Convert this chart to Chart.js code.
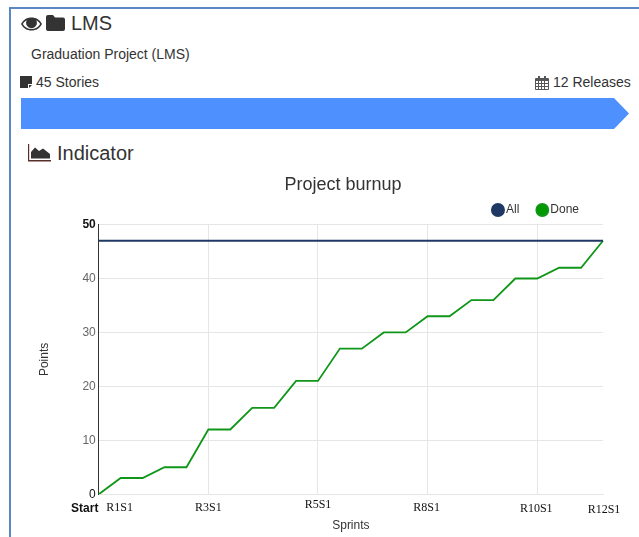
<!DOCTYPE html>
<html>
<head>
<meta charset="utf-8">
<title>LMS</title>
<script src="https://cdn.jsdelivr.net/npm/chart.js@4/dist/chart.umd.min.js"></script>
<style>
  html, body { margin: 0; background: #fff; width: 639px; height: 537px; overflow: hidden; }
  body { font-family: "Liberation Sans", Arial, sans-serif; color: #333; position: relative; }
  .frame { position: absolute; left: 9px; top: 7px; width: 640px; height: 540px; border: 2px solid #5b88c4; box-sizing: border-box; }
  .txt { position: absolute; white-space: nowrap; line-height: 1; }
  svg { position: absolute; fill: #333; }
  .bar { position: absolute; left: 21px; top: 98px; width: 608px; height: 31px; background: #4d90fe;
         clip-path: polygon(0 0, 593px 0, 100% 50%, 593px 100%, 0 100%); }
  #chartBox { position: absolute; left: 0; top: 168px; width: 639px; height: 369px; }
</style>
</head>
<body>
<div class="frame"></div>

<svg style="left:21px;top:16px" width="21" height="16" viewBox="0 0 21 16">
  <path fill-rule="evenodd" d="M0 8C2.500 3.500 6 1.500 10.500 1.500S18.500 3.500 21 8c-2.500 4.500-6 6.500-10.500 6.500S2.500 12.500 0 8zM1.800 8c2 3.300 5 5 8.700 5s6.700-1.700 8.700-5c-1.100-1.700-2.400-3-4-3.800a5.400 5.400 0 1 1-9.400 0C4.200 5 2.900 6.300 1.800 8z"/>
</svg>
<svg style="left:46px;top:15px" width="19" height="16" viewBox="0 0 19 16">
  <path d="M2 0h5l2 2.500h8a2 2 0 0 1 2 2V14a2 2 0 0 1-2 2H2a2 2 0 0 1-2-2V2a2 2 0 0 1 2-2z"/>
</svg>
<div class="txt" style="left:71px;top:13px;font-size:20px">LMS</div>
<div class="txt" style="left:31px;top:47px;font-size:14px">Graduation Project (LMS)</div>

<svg style="left:20px;top:76px" width="12" height="12" viewBox="0 0 12 12">
  <path d="M0 0h12v8H8v4H0z"/><path d="M9 9h3l-3 3z"/>
</svg>
<div class="txt" style="left:36px;top:75px;font-size:14px">45 Stories</div>

<svg style="left:535px;top:76px;fill:#555" width="14" height="14" viewBox="0 0 14 14">
  <path fill-rule="evenodd" d="M1 2h2V0h2v2h4V0h2v2h2a1 1 0 0 1 1 1v10a1 1 0 0 1-1 1H1a1 1 0 0 1-1-1V3a1 1 0 0 1 1-1zM1 5v2h2V5zm3 0v2h2V5zm3 0v2h2V5zm3 0v2h3V5zM1 8v2h2V8zm3 0v2h2V8zm3 0v2h2V8zm3 0v2h3V8zM1 11v2h2v-2zm3 0v2h2v-2zm3 0v2h2v-2zm3 0v2h3v-2z"/>
</svg>
<div class="txt" style="left:553px;top:75px;font-size:14px">12 Releases</div>

<div class="bar"></div>

<svg style="left:28px;top:144px" width="23" height="18" viewBox="0 0 23 18">
  <path d="M0 0h1.200v16H23v1.500H0z" fill="#5a2e2c"/><path d="M3 14.500V8L7 3.500 11 7l4-2.500L22 10v4.500z"/>
</svg>
<div class="txt" style="left:57px;top:143px;font-size:20px">Indicator</div>

<div id="chartBox"><canvas id="burnupChart"></canvas></div>

<script>
// Burnup values, one entry per sprint
const sprintLabels = ['Start', 'R1S1', '', '', '', 'R3S1', '', '', '', '', 'R5S1', '', '', '', '', 'R8S1', '', '', '', '', 'R10S1', '', '', 'R12S1'];
const allPoints = [47, 47, 47, 47, 47, 47, 47, 47, 47, 47, 47, 47, 47, 47, 47, 47, 47, 47, 47, 47, 47, 47, 47, 47];
const donePoints = [0, 3, 3, 5, 5, 12, 12, 16, 16, 21, 21, 27, 27, 30, 30, 33, 33, 36, 36, 40, 40, 42, 42, 47];
const griddedLabels = ['R3S1', 'R5S1', 'R8S1', 'R10S1'];

// The x labels in the original sit at slightly uneven heights
const labelNudge = { 'Start': [-14, 1], 'R1S1': [-1, 0], 'R3S1': [0, 0], 'R5S1': [0, -3], 'R8S1': [-1, 0], 'R10S1': [-1, 1], 'R12S1': [1, 2] };

// Title, legend and x labels do not sit where the layout would put them
const nudgeBlocks = {
  id: 'nudgeBlocks',
  beforeDraw(chart) {
    const title = chart.titleBlock;
    title.left = 2 * 343 - title.right;
    chart.legend.right = 579 + 21;
    chart.legend.top = 15;
    chart.scales.x.getLabelItems().forEach(item => {
      const nudge = labelNudge[item.label];
      if (!nudge || item.nudged) return;
      item.options.translation[0] += nudge[0];
      item.options.translation[1] += nudge[1];
      item.nudged = true;
    });
  }
};

new Chart(document.getElementById('burnupChart'), {
  type: 'line',
  data: {
    labels: sprintLabels,
    datasets: [
      { label: 'All', data: allPoints, borderColor: '#1f3864', backgroundColor: '#1f3864', borderWidth: 2, pointRadius: 0, tension: 0 },
      { label: 'Done', data: donePoints, borderColor: '#109618', backgroundColor: '#009900', borderWidth: 1.8, pointRadius: 0, tension: 0 }
    ]
  },
  options: {
    responsive: true,
    maintainAspectRatio: false,
    animation: false,
    layout: { padding: { left: 33, right: 36, bottom: 0, top: 0 } },
    plugins: {
      title: {
        display: true,
        text: 'Project burnup',
        color: '#333',
        font: { family: '"Liberation Sans", Arial, sans-serif', size: 18, weight: 'normal' },
        padding: { top: 6, bottom: -14 }
      },
      legend: {
        display: true,
        align: 'end',
        labels: {
          usePointStyle: true,
          pointStyle: 'circle',
          boxHeight: 8.5,
          boxWidth: 4,
          padding: 21,
          color: '#333',
          font: { family: '"Liberation Sans", Arial, sans-serif', size: 12 }
        }
      },
      tooltip: { enabled: false }
    },
    scales: {
      x: {
        offset: false,
        grid: {
          drawTicks: false,
          color: ctx => griddedLabels.includes(sprintLabels[ctx.index]) ? '#e6e6e6' : 'rgba(0,0,0,0)'
        },
        border: { color: '#e6e6e6' },
        ticks: {
          autoSkip: false,
          maxRotation: 0,
          padding: 6,
          color: '#111',
          font: ctx => sprintLabels[ctx.index] === 'Start'
            ? { family: '"Liberation Sans", Arial, sans-serif', size: 12, weight: 'bold' }
            : { family: '"Liberation Serif", "Times New Roman", serif', size: 12 }
        },
        title: { display: true, text: 'Sprints', color: '#333', padding: { top: -2 }, font: { family: '"Liberation Sans", Arial, sans-serif', size: 12 } }
      },
      y: {
        min: 0,
        max: 50,
        grid: { drawTicks: false, color: '#e6e6e6' },
        border: { color: '#333' },
        ticks: {
          stepSize: 10,
          padding: 3,
          color: ctx => (ctx.tick?.value === 0 || ctx.tick?.value === 50) ? '#111' : '#666',
          font: ctx => ({ family: '"Liberation Sans", Arial, sans-serif', size: 12, weight: ctx.tick?.value === 50 ? 'bold' : 'normal' })
        },
        title: { display: true, text: 'Points', color: '#333', padding: { bottom: 28 }, font: { family: '"Liberation Sans", Arial, sans-serif', size: 12 } }
      }
    }
  },
  plugins: [nudgeBlocks]
});
</script>
</body>
</html>
